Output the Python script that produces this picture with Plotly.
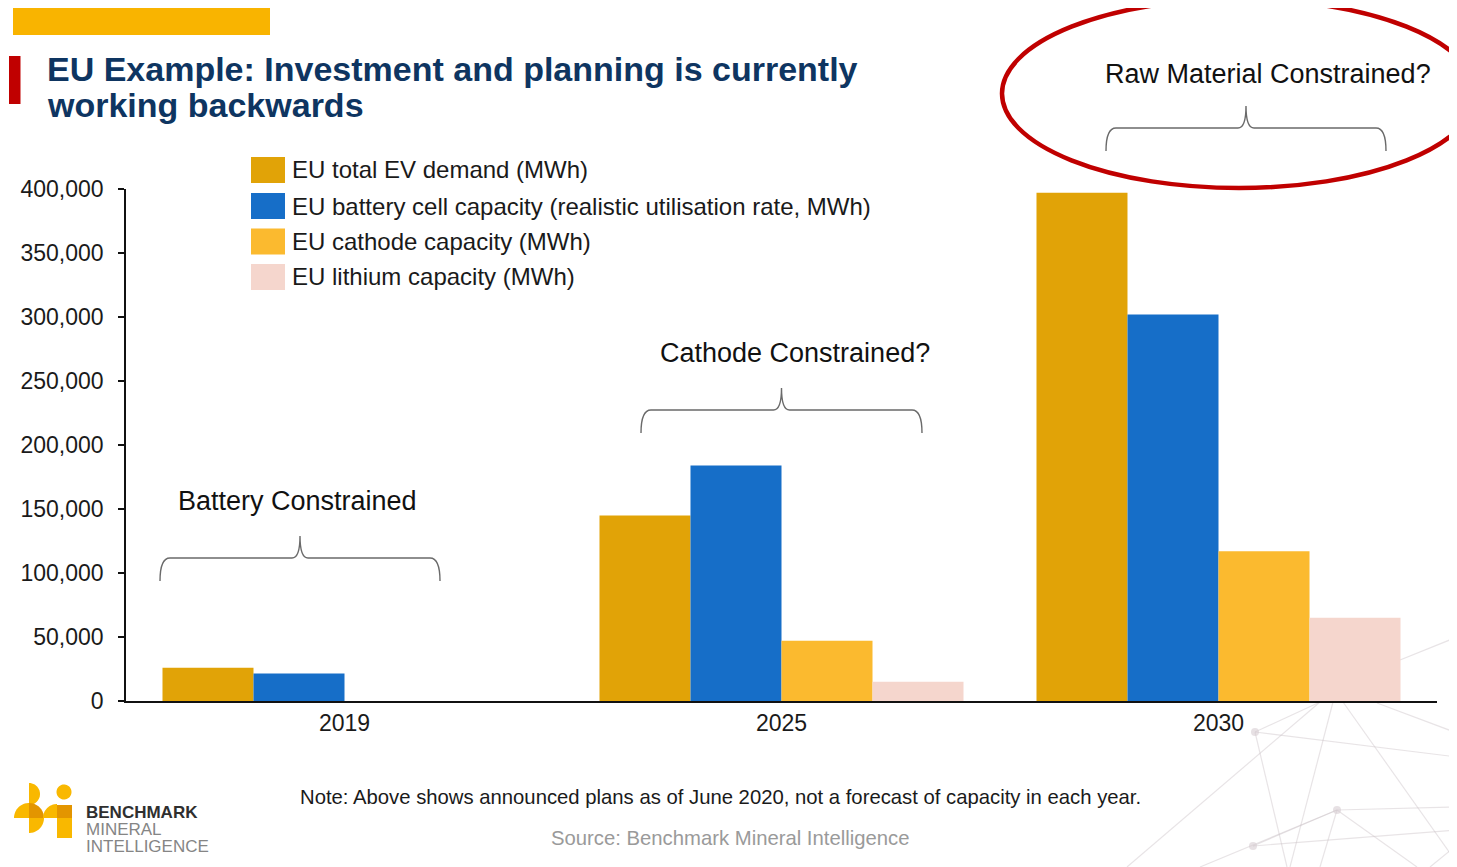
import numpy as np
import plotly.graph_objects as go

# page body has an 8px default margin; lay out in reference pixel coordinates and shift
OFF = 8
W, H = 1457 - OFF, 867 - OFF

# ---------------- data ----------------
years = ["2019", "2025", "2030"]
series_names = [
    "EU total EV demand (MWh)",
    "EU battery cell capacity (realistic utilisation rate, MWh)",
    "EU cathode capacity (MWh)",
    "EU lithium capacity (MWh)",
]
ev_demand = [26000, 145000, 397000]
cell_capacity = [21500, 184000, 302000]
cathode_capacity = [0, 47000, 117000]
lithium_capacity = [0, 15000, 65000]
series_colors = ["#E1A307", "#166EC8", "#FBBA2F", "#F5D6CD"]
y_tick_values = [0, 50000, 100000, 150000, 200000, 250000, 300000, 350000, 400000]
constraint_labels = ["Battery Constrained", "Cathode Constrained?", "Raw Material Constrained?"]

title_lines = ["EU Example: Investment and planning is currently", "working backwards"]
note_text = "Note: Above shows announced plans as of June 2020, not a forecast of capacity in each year."
source_text = "Source: Benchmark Mineral Intelligence"

FONT = "Liberation Sans, Arial, sans-serif"


def px(x):
    return (x - OFF) / W


def py(y):
    return 1 - (y - OFF) / H


fig = go.Figure()
for name, vals, col in zip(series_names, [ev_demand, cell_capacity, cathode_capacity, lithium_capacity], series_colors):
    fig.add_trace(go.Bar(x=years, y=vals, name=name, marker=dict(color=col, line=dict(width=0)),
                         showlegend=False, hoverinfo="x+y+name"))

shapes = []
annotations = []

# header decorations
shapes.append(dict(type="rect", xref="paper", yref="paper", x0=px(13), x1=px(270), y0=py(35), y1=py(4),
                   fillcolor="#F9B400", line=dict(width=0), layer="above"))
shapes.append(dict(type="rect", xref="paper", yref="paper", x0=px(9), x1=px(20.5), y0=py(104), y1=py(56),
                   fillcolor="#C00000", line=dict(width=0), layer="above"))

# title
for line, yc in zip(title_lines, [69, 105]):
    annotations.append(dict(text="<b>%s</b>" % line, x=px(45), y=py(yc), xref="paper", yref="paper",
                            xanchor="left", yanchor="middle", showarrow=False,
                            font=dict(family=FONT, size=34, color="#0E3561")))

# manual legend
legend_rows = [170, 206, 241.5, 277]
for name, col, yc in zip(series_names, series_colors, legend_rows):
    shapes.append(dict(type="rect", xref="paper", yref="paper", x0=px(251), x1=px(285),
                       y0=py(yc + 13), y1=py(yc - 13), fillcolor=col, line=dict(width=0)))
    annotations.append(dict(text=name, x=px(290), y=py(yc), xref="paper", yref="paper",
                            xanchor="left", yanchor="middle", showarrow=False,
                            font=dict(family=FONT, size=24, color="#1a1a1a")))


# curly braces
def brace(x0, x1, yh, yb, yt, r=10, rt=8):
    xc = (x0 + x1) / 2
    P = lambda x, y: "%.5f,%.5f" % (px(x), py(y))
    return ("M %s Q %s %s L %s Q %s %s Q %s %s L %s Q %s %s" % (
        P(x0, yb), P(x0, yh), P(x0 + r, yh), P(xc - rt, yh), P(xc, yh), P(xc, yt),
        P(xc, yh), P(xc + rt, yh), P(x1 - r, yh), P(x1, yh), P(x1, yb)))


brace_specs = [(160, 440, 558, 581, 536), (641, 922, 410, 433, 388), (1106, 1386, 128, 151, 106)]
label_pos = [(297, 501), (795, 353), (1268, 74)]
for (x0, x1, yh, yb, yt), lab, (lx, ly) in zip(brace_specs, constraint_labels, label_pos):
    shapes.append(dict(type="path", xref="paper", yref="paper", path=brace(x0, x1, yh, yb, yt),
                       line=dict(color="#6a6a6a", width=1.4)))
    annotations.append(dict(text=lab, x=px(lx), y=py(ly), xref="paper", yref="paper",
                            xanchor="center", yanchor="middle", showarrow=False,
                            font=dict(family=FONT, size=27, color="#111111")))

# red ellipse
shapes.append(dict(type="circle", xref="paper", yref="paper", x0=px(1002), x1=px(1476), y0=py(188), y1=py(-1),
                   line=dict(color="#C00000", width=4.5), fillcolor="rgba(0,0,0,0)"))

# note / source
annotations.append(dict(text=note_text, x=px(720), y=py(797), xref="paper", yref="paper", xanchor="center",
                        yanchor="middle", showarrow=False, font=dict(family=FONT, size=20.3, color="#1a1a1a")))
annotations.append(dict(text=source_text, x=px(730), y=py(838), xref="paper", yref="paper", xanchor="center",
                        yanchor="middle", showarrow=False, font=dict(family=FONT, size=20.3, color="#9a9a9a")))

# background network lines (decorative)
segments = [
    (1400, 660, 1457, 637), (1320, 702, 1127, 867), (1333, 702, 1290, 867), (1343, 702, 1457, 863),
    (1377, 703, 1457, 733), (1255, 732, 1457, 757), (1255, 732, 1320, 702), (1255, 732, 1287, 867),
    (1337, 810, 1457, 807), (1337, 810, 1253, 846), (1337, 810, 1417, 867), (1337, 810, 1320, 867),
    (1253, 846, 1457, 830), (1337, 810, 1200, 867), (1430, 867, 1457, 845),
]
for x0, y0, x1, y1 in segments:
    shapes.append(dict(type="line", xref="paper", yref="paper", x0=px(x0), y0=py(y0), x1=px(x1), y1=py(y1),
                       line=dict(color="rgba(205,195,200,0.45)", width=1.2), layer="below"))
for cx, cy in [(1255, 732), (1337, 810), (1253, 846)]:
    shapes.append(dict(type="circle", xref="paper", yref="paper", x0=px(cx - 4), x1=px(cx + 4),
                       y0=py(cy + 4), y1=py(cy - 4), fillcolor="rgba(215,205,210,0.6)", line=dict(width=0),
                       layer="below"))


# logo
def sector(cx, cy, r, a0, a1, n=24):
    ang = np.linspace(np.radians(a0), np.radians(a1), n)
    pts = [(cx, cy)] + [(cx + r * np.cos(a), cy - r * np.sin(a)) for a in ang]
    return "M " + " L ".join("%.5f,%.5f" % (px(x), py(y)) for x, y in pts) + " Z"


LIGHT, DARK = "#F9B800", "#E39500"
logo = [
    (sector(29, 794, 11, -90, 90), LIGHT),
    (sector(29, 818, 15, 90, 180), LIGHT),
    (sector(29, 818, 15, 0, 90), DARK),
    (sector(29, 818, 15, -90, 0), LIGHT),
    (sector(57, 818, 14, 90, 180), LIGHT),
    (sector(64, 792, 7.5, 0, 360, 48), LIGHT),
]
for path, col in logo:
    shapes.append(dict(type="path", xref="paper", yref="paper", path=path, fillcolor=col, line=dict(width=0)))
shapes.append(dict(type="rect", xref="paper", yref="paper", x0=px(57), x1=px(72), y0=py(838), y1=py(818),
                   fillcolor=LIGHT, line=dict(width=0)))
shapes.append(dict(type="rect", xref="paper", yref="paper", x0=px(57), x1=px(72), y0=py(818), y1=py(805),
                   fillcolor=DARK, line=dict(width=0)))
for txt, yc, col in [("<b>BENCHMARK</b>", 812, "#2f2f2f"), ("MINERAL", 829, "#858585"),
                     ("INTELLIGENCE", 846, "#858585")]:
    annotations.append(dict(text=txt, x=px(84), y=py(yc), xref="paper", yref="paper", xanchor="left",
                            yanchor="middle", showarrow=False, font=dict(family=FONT, size=17, color=col)))

fig.update_layout(
    width=W, height=H,
    margin=dict(l=0, r=0, t=0, b=0, pad=0),
    paper_bgcolor="white", plot_bgcolor="rgba(0,0,0,0)",
    barmode="group", bargap=0.167, bargroupgap=0,
    font=dict(family=FONT, color="#1a1a1a"),
    showlegend=False,
    shapes=shapes, annotations=annotations,
    xaxis=dict(domain=[px(126), px(1437)], type="category", range=[-0.5, 2.5],
               showline=True, linecolor="#111111", linewidth=2, ticks="", showgrid=False, zeroline=False,
               tickfont=dict(family=FONT, size=23, color="#1a1a1a"), automargin=False, fixedrange=True),
    yaxis=dict(domain=[py(701), py(189)], range=[0, 400000], tickvals=y_tick_values, tickformat=",",
               showline=True, linecolor="#111111", linewidth=1.5, ticks="outside", ticklen=6,
               tickcolor="#111111", tickwidth=1.5, showgrid=False, zeroline=False, ticklabelstandoff=10,
               tickfont=dict(family=FONT, size=23, color="#1a1a1a"), automargin=False, fixedrange=True),
)

fig.write_html("out.html")
